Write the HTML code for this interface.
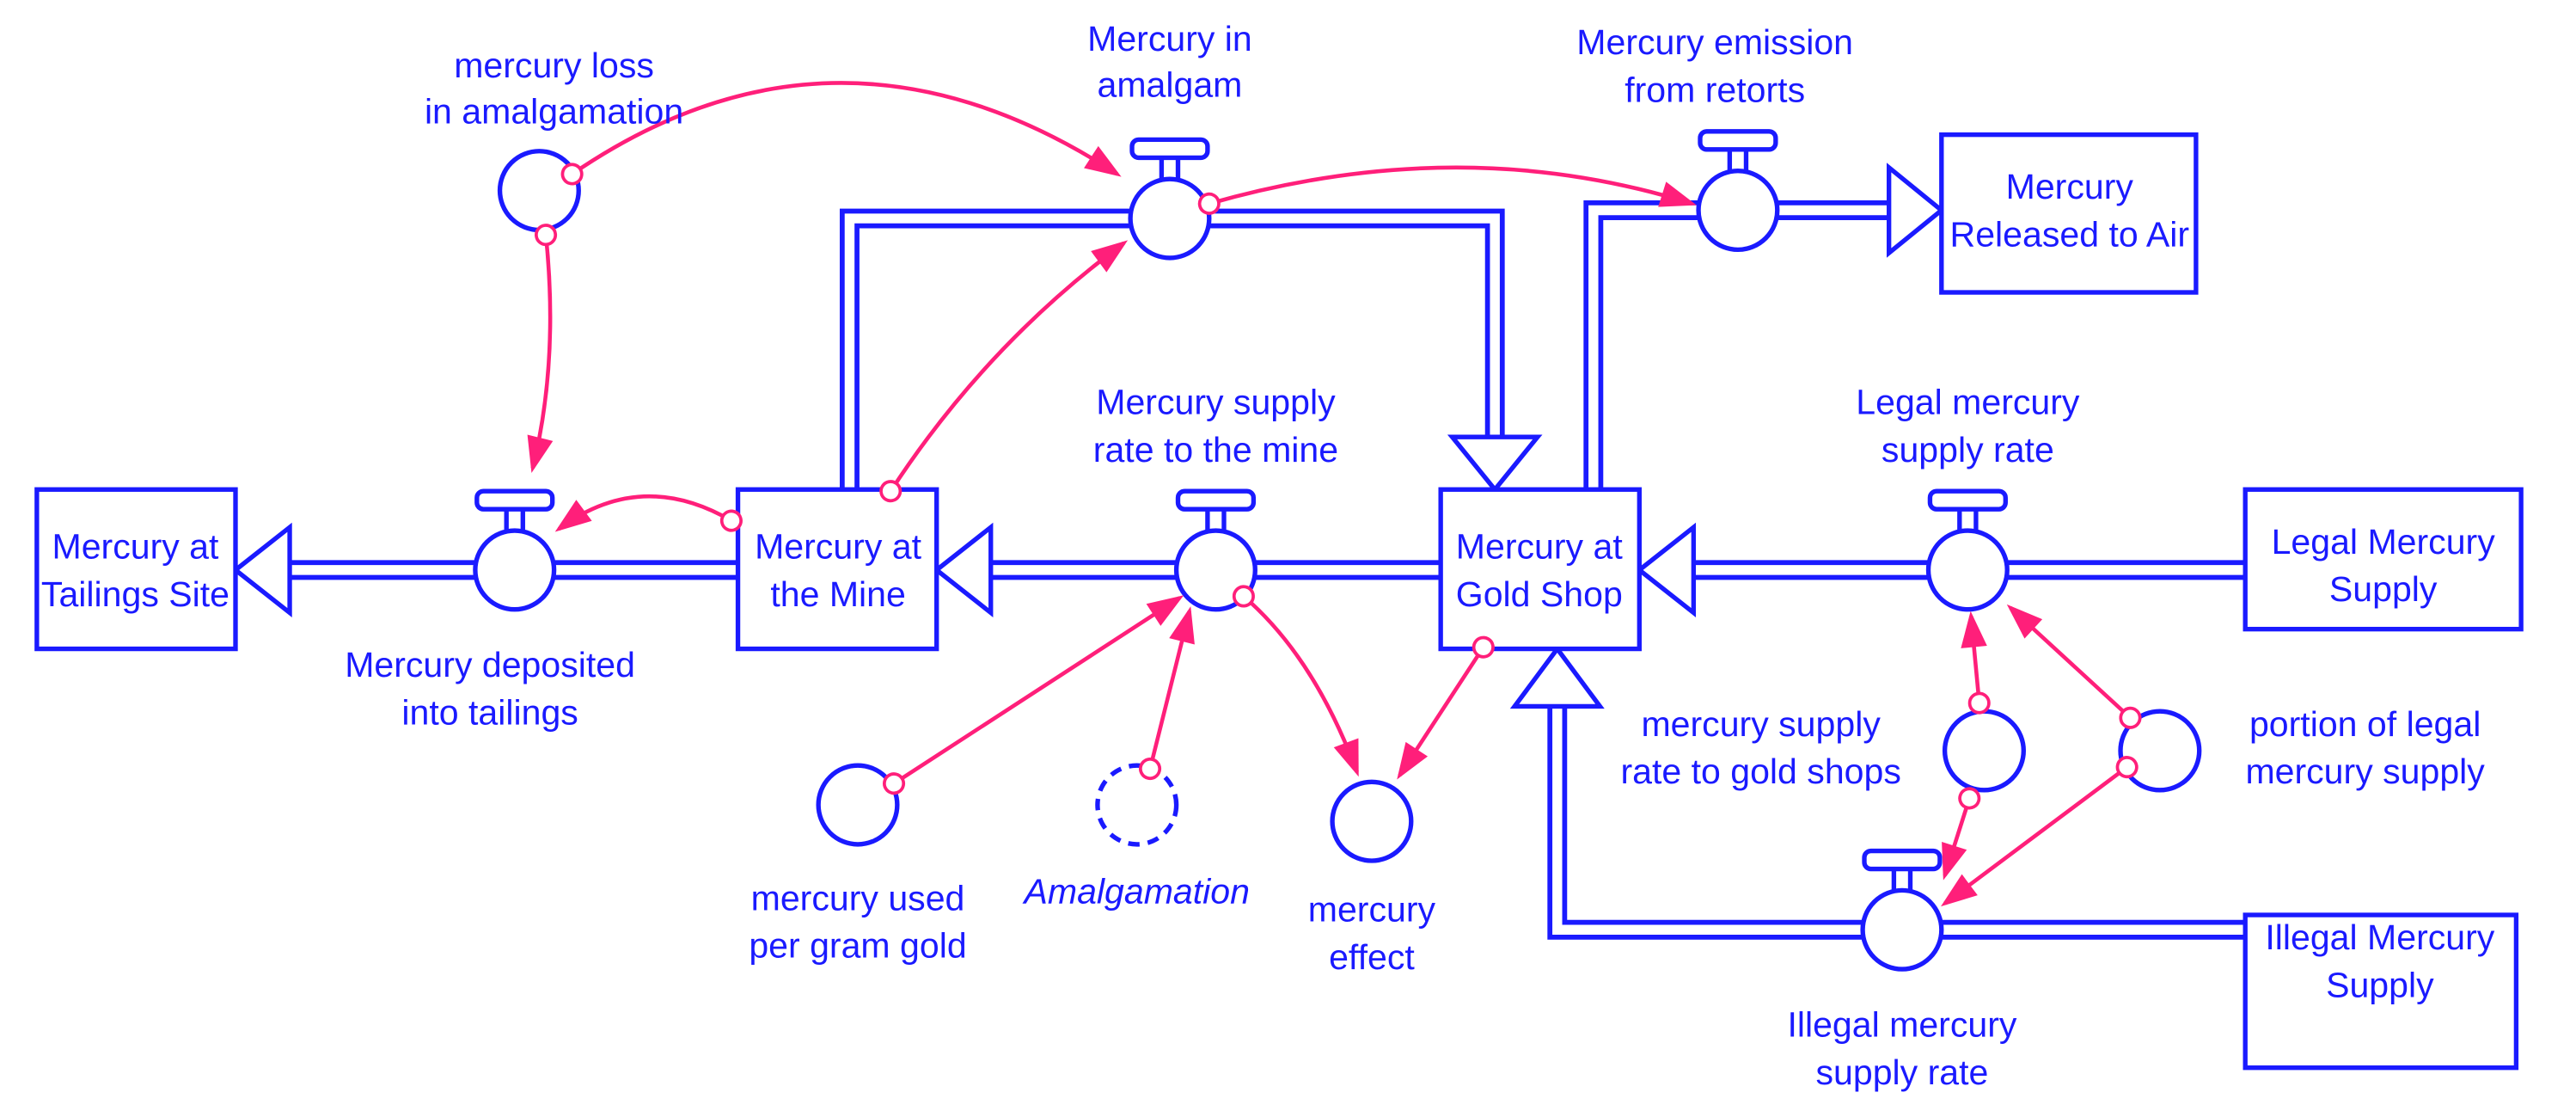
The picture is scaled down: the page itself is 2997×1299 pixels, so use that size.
<!DOCTYPE html>
<html><head><meta charset="utf-8"><style>
html,body{margin:0;padding:0;background:#fff;}
svg{display:block;}
text{font-family:"Liberation Sans",Arial,sans-serif;font-size:21.5px;fill:#1a1aff;text-anchor:middle;}
</style></head><body>
<svg width="2997" height="1299" viewBox="0 0 1568 680" xmlns="http://www.w3.org/2000/svg">
<defs>
<marker id="ah" viewBox="0 0 10 10" refX="9" refY="5" markerWidth="10" markerHeight="10" markerUnits="userSpaceOnUse" orient="auto" style="overflow:visible">
<path d="M-10,-3 L12,5 L-10,13 Z" fill="#ff1f7a"/></marker>
<marker id="oc" viewBox="0 0 10 10" refX="5" refY="5" markerWidth="15" markerHeight="15" markerUnits="userSpaceOnUse" orient="auto">
<circle cx="5" cy="5" r="3.9" fill="#fff" stroke="#ff1f7a" stroke-width="1.3"/></marker>
</defs>
<g fill="none" stroke-linejoin="miter">
<g stroke="#1a1aff" stroke-width="12">
<polyline points="449,347 176,347"/>
<polyline points="877,347 603,347"/>
<polyline points="1367,347 1031,347"/>
<polyline points="1367,566 948,566 948,430"/>
<polyline points="517,298 517,133 910,133 910,266"/>
<polyline points="970,298 970,128 1150,128"/>
</g>
<g stroke="#fff" stroke-width="6">
<polyline points="449,347 170,347"/>
<polyline points="877,347 597,347"/>
<polyline points="1367,347 1025,347"/>
<polyline points="1367,566 948,566 948,425"/>
<polyline points="517,298 517,133 910,133 910,272"/>
<polyline points="970,298 970,128 1156,128"/>
</g>
</g>
<g fill="#fff" stroke="#1a1aff" stroke-width="2.8">
<polygon points="143,347 176,321 176,373"/>
<polygon points="570,347 603,321 603,373"/>
<polygon points="998,347 1031,321 1031,373"/>
<polygon points="948,395 922,430 974,430"/>
<polygon points="910,298 884,266 936,266"/>
<polygon points="1182,128 1150,102 1150,154"/>
<rect x="22" y="298" width="121" height="97"/>
<rect x="449" y="298" width="121" height="97"/>
<rect x="877" y="298" width="121" height="97"/>
<rect x="1182" y="82" width="155" height="96"/>
<rect x="1367" y="298" width="168" height="85"/>
<rect x="1367" y="557" width="165" height="93"/>
<circle cx="328" cy="116" r="24"/>
<circle cx="522" cy="490" r="24"/>
<circle cx="692" cy="490" r="24" stroke-dasharray="7,5"/>
<circle cx="835" cy="500" r="24"/>
<circle cx="1208" cy="457" r="24"/>
<circle cx="1315" cy="457" r="24"/>
</g>
<g fill="#fff" stroke="#1a1aff" stroke-width="2.8">
<g transform="translate(313,347)"><line x1="-5" y1="-24" x2="-5" y2="-38"/><line x1="5" y1="-24" x2="5" y2="-38"/><rect x="-23" y="-48" width="46" height="11" rx="4"/><circle r="24"/></g>
<g transform="translate(740,347)"><line x1="-5" y1="-24" x2="-5" y2="-38"/><line x1="5" y1="-24" x2="5" y2="-38"/><rect x="-23" y="-48" width="46" height="11" rx="4"/><circle r="24"/></g>
<g transform="translate(1198,347)"><line x1="-5" y1="-24" x2="-5" y2="-38"/><line x1="5" y1="-24" x2="5" y2="-38"/><rect x="-23" y="-48" width="46" height="11" rx="4"/><circle r="24"/></g>
<g transform="translate(1158,566)"><line x1="-5" y1="-24" x2="-5" y2="-38"/><line x1="5" y1="-24" x2="5" y2="-38"/><rect x="-23" y="-48" width="46" height="11" rx="4"/><circle r="24"/></g>
<g transform="translate(712,133)"><line x1="-5" y1="-24" x2="-5" y2="-38"/><line x1="5" y1="-24" x2="5" y2="-38"/><rect x="-23" y="-48" width="46" height="11" rx="4"/><circle r="24"/></g>
<g transform="translate(1058,128)"><line x1="-5" y1="-24" x2="-5" y2="-38"/><line x1="5" y1="-24" x2="5" y2="-38"/><rect x="-23" y="-48" width="46" height="11" rx="4"/><circle r="24"/></g>
</g>
<g fill="none" stroke="#ff1f7a" stroke-width="2.4" marker-start="url(#oc)" marker-end="url(#ah)">
<path d="M348,106 Q510,-5 680,106"/>
<path d="M332,143 Q340,220 324,285"/>
<path d="M445,317 Q390,285 340,322"/>
<path d="M542,299 Q600,210 684,148"/>
<path d="M736,124 Q890,80 1030,124"/>
<path d="M544,477 L718,364"/>
<path d="M700,468 L724,372"/>
<path d="M757,363 Q800,400 826,470"/>
<path d="M903,394 L852,472"/>
<path d="M1205,428 L1200,375"/>
<path d="M1199,486 L1184,533"/>
<path d="M1297,437 L1224,370"/>
<path d="M1295,467 L1184,550"/>
</g>
<text x="337" y="47">mercury loss</text><text x="337" y="75">in amalgamation</text>
<text x="712" y="31">Mercury in</text><text x="712" y="59">amalgam</text>
<text x="1044" y="33">Mercury emission</text><text x="1044" y="62">from retorts</text>
<text x="1260" y="121">Mercury</text><text x="1260" y="150">Released to Air</text>
<text x="740" y="252">Mercury supply</text><text x="740" y="281">rate to the mine</text>
<text x="1198" y="252">Legal mercury</text><text x="1198" y="281">supply rate</text>
<text x="82" y="340">Mercury at</text><text x="82" y="369">Tailings Site</text>
<text x="298" y="412">Mercury deposited</text><text x="298" y="441">into tailings</text>
<text x="510" y="340">Mercury at</text><text x="510" y="369">the Mine</text>
<text x="937" y="340">Mercury at</text><text x="937" y="369">Gold Shop</text>
<text x="1451" y="337">Legal Mercury</text><text x="1451" y="366">Supply</text>
<text x="1072" y="448">mercury supply</text><text x="1072" y="477">rate to gold shops</text>
<text x="1440" y="448">portion of legal</text><text x="1440" y="477">mercury supply</text>
<text x="522" y="554">mercury used</text><text x="522" y="583">per gram gold</text>
<text x="692" y="550" font-style="italic">Amalgamation</text>
<text x="835" y="561">mercury</text><text x="835" y="590">effect</text>
<text x="1449" y="578">Illegal Mercury</text><text x="1449" y="607">Supply</text>
<text x="1158" y="631">Illegal mercury</text><text x="1158" y="660">supply rate</text>
</svg>
</body></html>
